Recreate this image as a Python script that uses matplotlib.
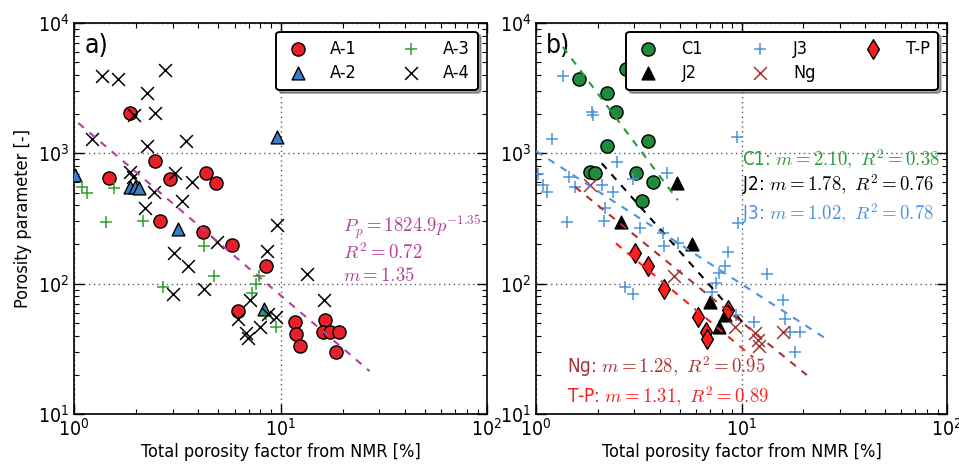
import numpy as np
import matplotlib
matplotlib.use('Agg')
import matplotlib.pyplot as plt

plt.rcParams['font.family'] = ['DejaVu Sans']
plt.rcParams['font.stretch'] = 'condensed'
plt.rcParams['mathtext.fontset'] = 'cm'

# ---------------- data: panel a ----------------
a1_x = [1.87, 2.46, 1.48, 2.91, 4.38, 4.85, 2.60, 4.22, 5.82, 8.53, 6.22, 11.7, 11.9, 12.4, 16.4, 16.0, 17.4, 19.3, 18.6]
a1_y = [2050, 869, 643, 635, 710, 595, 304, 248, 198, 137, 62, 50.8, 41.3, 33.2, 52.6, 42.8, 42.8, 42.8, 30.0]
a2_x = [1.01, 1.87, 1.97, 2.07, 9.64, 3.19, 8.28]
a2_y = [681, 554, 554, 545, 1327, 261, 63.5]
a3_x = [1.09, 1.15, 1.56, 1.43, 2.15, 4.25, 4.75, 2.70, 7.83, 7.63, 7.30, 9.46, 8.53]
a3_y = [554, 499, 539, 299, 304, 195, 114, 94.6, 114, 100, 85, 46.2, 59]
a4_x = [1.37, 1.64, 2.77, 2.26, 2.46, 1.95, 1.22, 2.26, 3.50, 1.87, 1.92, 3.08, 3.73, 2.43, 3.34, 2.20,
        9.64, 4.92, 3.05, 3.57, 3.00, 4.26, 8.59, 13.5, 16.3, 7.14, 6.22, 6.83, 6.95, 7.92, 8.66, 9.46]
a4_y = [3920, 3715, 4357, 2918, 2050, 1969, 1280, 1143, 1250, 722, 661, 701, 599, 508, 430, 378,
        282, 210, 173, 136, 83, 91, 178, 118, 74.8, 74.8, 53.2, 42, 38, 46.2, 59, 55.7]
fit_a = (1824.9, 1.35, 1.05, 27.0)   # coefficient, exponent, x range

# ---------------- data: panel b ----------------
c1_x = [1.61, 2.73, 2.21, 2.45, 2.22, 3.50, 1.83, 1.94, 3.07, 3.70, 3.29]
c1_y = [3715, 4414, 2918, 2065, 1143, 1250, 722, 701, 701, 606, 433]
j2_x = [4.84, 2.59, 5.76, 7.03, 8.31, 7.80]
j2_y = [589, 299, 201, 72.6, 57.4, 46.2]
j3_x = [1.36, 1.87, 1.90, 1.20, 9.48, 2.47, 1.02, 1.45, 1.085, 1.135, 1.55, 2.09, 2.38, 2.95, 4.35, 2.17,
        1.42, 2.15, 3.21, 9.58, 4.17, 4.20, 4.93, 8.57, 8.31, 7.80, 7.51, 7.16, 2.71, 2.95, 13.3, 16.0,
        16.3, 11.5, 9.37, 17.2, 19.3, 18.2]
j3_y = [3920, 2065, 1969, 1280, 1341, 862, 690, 661, 571, 508, 550, 571, 508, 640, 701, 378,
        299, 304, 266, 290, 243, 194, 206, 176, 137, 120, 101.6, 86.6, 94.6, 83, 118, 74.8,
        53.2, 50.5, 57.4, 42.8, 42.8, 30.0]
ng_x = [1.83, 4.69, 9.29, 11.6, 12.0, 12.2, 16.0]
ng_y = [571, 114, 46.2, 41.6, 37, 33.2, 42.8]
tp_x = [3.03, 3.52, 4.20, 6.12, 6.72, 6.82, 8.57]
tp_y = [171, 137, 91, 55.2, 42.8, 37.4, 62.7]
fit_c1 = (12300, 2.10, 1.35, 4.9)
fit_j2 = (3110, 1.78, 2.09, 10.2)
fit_j3 = (1040, 1.02, 1.0, 26.0)
fit_ng = (968, 1.28, 1.55, 20.8)
fit_tp = (659, 1.31, 2.45, 11.4)

col_a1 = '#e8202a'
col_a2 = '#3b7ec4'
col_a3 = '#2ca02c'
col_mag = '#b0409c'
col_c1 = '#1e8c3a'
col_c1t = '#2a9a3a'
col_j3 = '#4b93dc'
col_ng = '#a83232'
col_tp = '#ff1c1c'

fig = plt.figure(figsize=(9.59, 4.66), dpi=100)
axL = fig.add_axes([74/959, 52/466, 413/959, 391/466])
axR = fig.add_axes([536/959, 52/466, 411/959, 391/466])


def power_line(ax, fit, color):
    A, m, x0, x1 = fit
    xs = np.logspace(np.log10(x0), np.log10(x1), 50)
    ax.plot(xs, A * xs ** (-m), color=color, lw=1.5, ls=(0, (3.5, 3.5)), zorder=5)


def style(ax):
    ax.set_xscale('log')
    ax.set_yscale('log')
    ax.set_xlim(1, 100)
    ax.set_ylim(10, 1e4)
    ax.grid(True, which='major', ls=(0, (1, 2.5)), color='0.35', lw=1.0)
    ax.tick_params(which='both', direction='in', top=True, right=True, labelsize=14)
    ax.tick_params(which='major', length=7, width=1)
    ax.tick_params(which='minor', length=3.5, width=0.8)
    ax.tick_params(axis='x', pad=3)
    for s in ax.spines.values():
        s.set_linewidth(1.2)
    ax.set_xlabel('Total porosity factor from NMR [%]', fontsize=13, labelpad=2)


def style_legend(leg):
    leg.get_frame().set_edgecolor('black')
    leg.get_frame().set_linewidth(1.4)


# ---- panel a ----
style(axL)
axL.scatter(a1_x, a1_y, marker='o', s=90, facecolor=col_a1, edgecolor='black', lw=1, label='A-1', zorder=3)
axL.scatter(a2_x, a2_y, marker='^', s=85, facecolor=col_a2, edgecolor='black', lw=1, label='A-2', zorder=3)
axL.scatter(a3_x, a3_y, marker='+', s=65, color=col_a3, lw=1.1, label='A-3', zorder=3)
axL.scatter(a4_x, a4_y, marker='x', s=85, color='black', lw=1.1, label='A-4', zorder=4)
power_line(axL, fit_a, col_mag)
axL.set_ylabel('Porosity parameter [-]', fontsize=13, labelpad=4)
leg = axL.legend(ncol=2, loc='upper right', bbox_to_anchor=(0.978, 0.978), borderaxespad=0,
                 fontsize=13, scatterpoints=1, shadow=True, fancybox=True, borderpad=0.45,
                 handlelength=1.5, columnspacing=2.3, handletextpad=1.0, labelspacing=0.35)
style_legend(leg)
axL.text(0.025, 0.975, 'a)', transform=axL.transAxes, fontsize=19, va='top', ha='left')
axL.text(0.651, 0.478, r'$P_p=1824.9p^{-1.35}$', transform=axL.transAxes, color=col_mag, fontsize=13.5, va='center')
axL.text(0.651, 0.414, r'$R^2=0.72$', transform=axL.transAxes, color=col_mag, fontsize=13.5, va='center')
axL.text(0.651, 0.355, r'$m=1.35$', transform=axL.transAxes, color=col_mag, fontsize=13.5, va='center')

# ---- panel b ----
style(axR)
axR.scatter(c1_x, c1_y, marker='o', s=90, facecolor=col_c1, edgecolor='black', lw=1, label='C1', zorder=3)
axR.scatter(j2_x, j2_y, marker='^', s=85, facecolor='black', edgecolor='black', lw=1, label='J2', zorder=3)
axR.scatter(j3_x, j3_y, marker='+', s=65, color=col_j3, lw=1.1, label='J3', zorder=3)
axR.scatter(ng_x, ng_y, marker='x', s=85, color=col_ng, lw=1.1, label='Ng', zorder=3)
axR.scatter(tp_x, tp_y, marker='d', s=100, facecolor=col_tp, edgecolor='black', lw=1, label='T-P', zorder=3)
power_line(axR, fit_c1, col_c1t)
power_line(axR, fit_j2, 'black')
power_line(axR, fit_j3, col_j3)
power_line(axR, fit_ng, col_ng)
power_line(axR, fit_tp, col_tp)
leg2 = axR.legend(ncol=3, loc='upper right', bbox_to_anchor=(0.978, 0.978), borderaxespad=0,
                  fontsize=13, scatterpoints=1, shadow=True, fancybox=True, borderpad=0.45,
                  handlelength=1.5, columnspacing=2.4, handletextpad=1.1, labelspacing=0.35)
style_legend(leg2)
axR.text(0.025, 0.975, 'b)', transform=axR.transAxes, fontsize=19, va='top', ha='left')
axR.text(0.50, 0.650, r'C1: $m=2.10,\ R^2=0.38$', transform=axR.transAxes, color=col_c1t, fontsize=13.5, va='center')
axR.text(0.50, 0.588, r'J2: $m=1.78,\ R^2=0.76$', transform=axR.transAxes, color='black', fontsize=13.5, va='center')
axR.text(0.50, 0.514, r'J3: $m=1.02,\ R^2=0.78$', transform=axR.transAxes, color=col_j3, fontsize=13.5, va='center')
axR.text(0.075, 0.121, r'Ng: $m=1.28,\ R^2=0.95$', transform=axR.transAxes, color=col_ng, fontsize=13.5, va='center')
axR.text(0.075, 0.044, r'T-P: $m=1.31,\ R^2=0.89$', transform=axR.transAxes, color=col_tp, fontsize=13.5, va='center')

fig.savefig('out.png', dpi=100)
